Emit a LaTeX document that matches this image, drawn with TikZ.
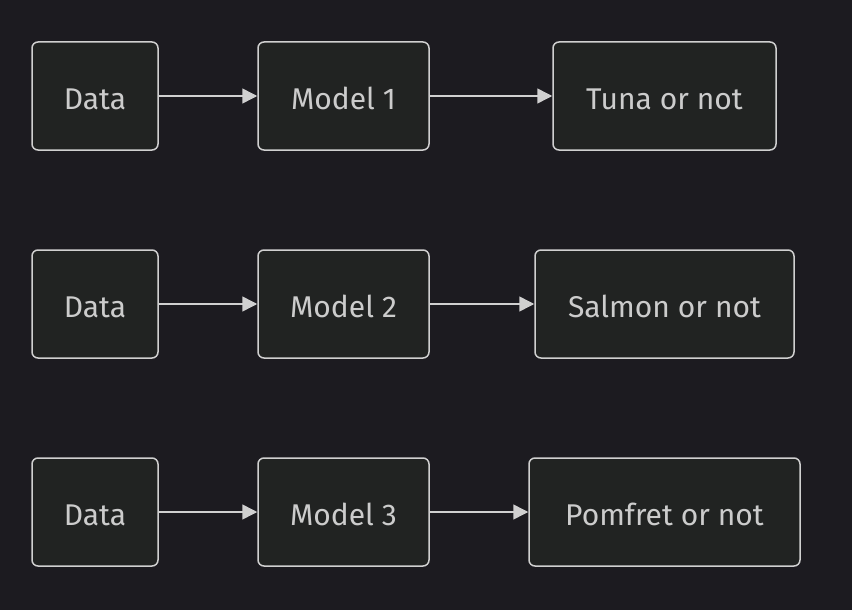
\documentclass[tikz,border=0pt]{standalone}
\usepackage{fontspec}
\setmainfont{Fira Sans}
\usetikzlibrary{arrows.meta,positioning}
\definecolor{canvasdark}{HTML}{1C1B20}
\definecolor{boxfill}{HTML}{212322}
\definecolor{boxline}{HTML}{D0D0D0}
\definecolor{boxtext}{HTML}{CCCCCC}
\tikzset{
  stage/.style={
    draw=boxline,
    rounded corners=6pt,
    fill=boxfill,
    line width=1.5pt,
    text=boxtext,
    align=center,
    minimum height=108pt,
    inner sep=0pt,
    text height=27pt,
    text depth=0pt,
    font=\fontsize{30}{36}\selectfont
  },
  flowarrow/.style={
    -{Triangle[length=15pt,width=15pt]},
    line width=1.5pt,
    draw=boxline
  }
}
\begin{document}
\begin{tikzpicture}[x=1pt,y=-1pt]
    \fill[canvasdark] (0,0) rectangle (852,610);
    \useasboundingbox (0,0) rectangle (852,610);
    % row 1
    \node[stage, minimum width=126pt] (data1) at (95,96) {Data};
    \node[stage, minimum width=171pt] (model1) at (343.5,96) {Model 1};
    \node[stage, minimum width=223pt] (tuna) at (664.5,96) {Tuna or not};
    % row 2
    \node[stage, minimum width=126pt] (data2) at (95,304) {Data};
    \node[stage, minimum width=171pt] (model2) at (343.5,304) {Model 2};
    \node[stage, minimum width=259pt] (salmon) at (664.5,304) {Salmon or not};
    % row 3
    \node[stage, minimum width=126pt] (data3) at (95,512) {Data};
    \node[stage, minimum width=171pt] (model3) at (343.5,512) {Model 3};
    \node[stage, minimum width=271pt] (pomfret) at (664.5,512) {Pomfret or not};
    \draw[flowarrow] (data1) -- (model1);
    \draw[flowarrow] (model1) -- (tuna);
    \draw[flowarrow] (data2) -- (model2);
    \draw[flowarrow] (model2) -- (salmon);
    \draw[flowarrow] (data3) -- (model3);
    \draw[flowarrow] (model3) -- (pomfret);
\end{tikzpicture}
\end{document}
